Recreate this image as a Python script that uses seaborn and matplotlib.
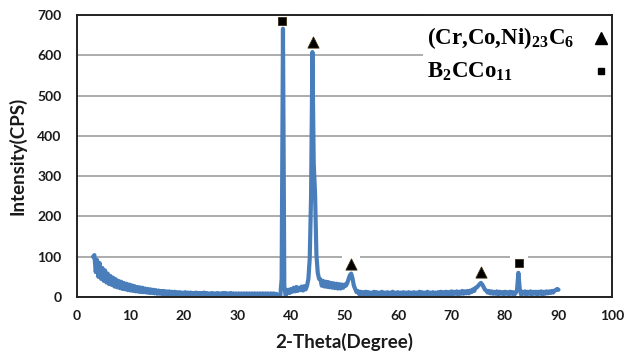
import numpy as np
import pandas as pd
import matplotlib
matplotlib.use("Agg")
import matplotlib.pyplot as plt
import seaborn as sns
from matplotlib.patches import Rectangle

# ---------------- data ----------------
theta_start, theta_step = 3.0, 0.25
intensity = [
    # 3.00 - 7.75
    100, 104, 62, 92, 50, 84, 45, 72, 40, 66, 36, 58, 32, 52, 30, 48, 26, 44, 24, 40,
    # 8.00 - 12.75
    22, 38, 20, 35, 19, 33, 17, 31, 16, 29, 15, 27, 14, 25, 13, 24, 12, 23, 12, 21,
    # 13.00 - 17.75
    11, 20, 10, 19, 10, 18, 9, 17, 8, 16, 8, 15, 7, 15, 7, 14, 6, 14, 6, 13,
    # 18.00 - 22.75
    6, 13, 5, 12, 6, 12, 5, 11, 5, 12, 4, 11, 5, 11, 4, 10, 5, 11, 4, 10,
    # 23.00 - 27.75
    4, 10, 5, 11, 4, 10, 3, 9, 4, 10, 3, 9, 4, 10, 3, 9, 4, 10, 3, 10,
    # 28.00 - 32.75
    3, 9, 4, 10, 3, 9, 4, 9, 3, 9, 3, 9, 4, 9, 3, 9, 3, 9, 3, 9,
    # 33.00 - 37.75
    3, 9, 3, 9, 3, 9, 4, 9, 3, 9, 3, 9, 4, 9, 4, 9, 3, 8, 4, 2,
    # 38.00 - 42.75
    2, 45, 666, 28, 3, 12, 18, 10, 20, 13, 23, 14, 25, 15, 23, 17, 26, 16, 27, 19,
    # 43.00 - 47.75
    28, 45, 95, 250, 608, 330, 255, 105, 60, 45, 44, 28, 40, 26, 38, 25, 37, 24, 35, 23,
    # 48.00 - 52.75
    34, 22, 33, 21, 32, 21, 31, 23, 31, 28, 34, 44, 54, 58, 46, 28, 20, 12, 15, 7,
    # 53.00 - 57.75
    13, 6, 12, 5, 13, 6, 12, 5, 11, 6, 13, 5, 12, 6, 11, 5, 13, 6, 11, 5,
    # 58.00 - 62.75
    12, 5, 11, 6, 13, 5, 11, 6, 12, 5, 11, 5, 12, 6, 11, 5, 12, 5, 11, 6,
    # 63.00 - 67.75
    12, 5, 11, 6, 13, 5, 12, 6, 11, 5, 13, 6, 11, 5, 12, 6, 11, 5, 12, 6,
    # 68.00 - 72.75
    13, 6, 12, 7, 13, 6, 12, 7, 14, 7, 13, 8, 14, 7, 13, 8, 15, 8, 14, 9,
    # 73.00 - 77.75
    15, 9, 16, 12, 19, 15, 23, 24, 28, 32, 35, 31, 25, 18, 16, 11, 15, 9, 14, 8,
    # 78.00 - 82.75
    13, 8, 14, 7, 13, 8, 12, 7, 13, 8, 12, 7, 13, 8, 12, 6, 10, 18, 60, 20,
    # 83.00 - 87.75
    6, 13, 8, 14, 7, 13, 8, 14, 7, 13, 8, 13, 7, 13, 8, 14, 7, 13, 8, 14,
    # 88.00 - 90.00
    9, 14, 10, 15, 11, 16, 17, 20, 18,
]
theta = theta_start + theta_step * np.arange(len(intensity))

tri_x = [44.05, 51.3, 75.6]
tri_y = [633, 82, 61]
sq_x = [38.4, 82.6]
sq_y = [685, 84]

legend_labels = [r"(Cr,Co,Ni)$_{\mathbf{23}}$C$_{\mathbf{6}}$", r"B$_{\mathbf{2}}$CCo$_{\mathbf{11}}$"]
x_ticks = list(range(0, 101, 10))
y_ticks = list(range(0, 701, 100))

df = pd.DataFrame({"theta": theta, "intensity": intensity})
tri_df = pd.DataFrame({"x": tri_x, "y": tri_y})
sq_df = pd.DataFrame({"x": sq_x, "y": sq_y})

# ---------------- style ----------------
sns.set_theme(style="white")
plt.rcParams["font.family"] = ["Lato", "DejaVu Sans"]
plt.rcParams["mathtext.fontset"] = "custom"
plt.rcParams["mathtext.rm"] = "Liberation Serif:bold"
plt.rcParams["mathtext.bf"] = "Liberation Serif:bold"

fig = plt.figure(figsize=(6.28, 3.58), dpi=100)
ax = fig.add_axes([77 / 628, 1 - 297 / 358, 535 / 628, 282 / 358])

blue = "#4a7ebb"

# white boxes behind peak markers (cut the gridlines like the original)
all_mx = tri_x + sq_x
all_my = tri_y + sq_y
ax.scatter(all_mx, all_my, marker="s", s=150, color="white", zorder=1.5, linewidths=0)

sns.lineplot(data=df, x="theta", y="intensity", ax=ax, color=blue,
             linewidth=3.0, estimator=None, sort=False, zorder=2)

sns.scatterplot(data=tri_df, x="x", y="y", ax=ax, marker="^", s=65,
                color="black", edgecolor="#3a2a10", linewidth=0.6, zorder=3)
sns.scatterplot(data=sq_df, x="x", y="y", ax=ax, marker="s", s=28,
                color="black", edgecolor="#3a2a10", linewidth=0.6, zorder=3)

ax.set_xlim(0, 100)
ax.set_ylim(0, 700)
ax.set_xticks(x_ticks)
ax.set_yticks(y_ticks)
ax.set_xticklabels([str(v) for v in x_ticks], fontsize=10, fontweight="bold", color="#1a1a1a")
ax.set_yticklabels([str(v) for v in y_ticks], fontsize=10, fontweight="bold", color="#1a1a1a")
ax.tick_params(axis="both", length=0, pad=9)
ax.tick_params(axis="y", pad=11)

ax.grid(axis="y", color="#a6a6a6", linewidth=1.3, zorder=0)
ax.grid(axis="x", visible=False)
ax.set_axisbelow(True)
for sp in ax.spines.values():
    sp.set_color("#222222")
    sp.set_linewidth(1.4)
    sp.set_zorder(5)

ax.set_xlabel("2-Theta(Degree)", fontsize=13.5, fontweight="bold", color="#1a1a1a", labelpad=8)
ax.set_ylabel("Intensity(CPS)", fontsize=13.5, fontweight="bold", color="#1a1a1a", labelpad=8)

# ---------------- legend (manual, like the original text box) ----------------
ax.add_patch(Rectangle((0.647, 0.735), 0.353, 0.265, transform=ax.transAxes,
                       facecolor="white", edgecolor="none", zorder=4))
legend_y = [0.918, 0.800]
legend_markers = ["^", "s"]
legend_msize = [8.5, 5]
for lab, ly, mk, ms in zip(legend_labels, legend_y, legend_markers, legend_msize):
    ax.text(0.655, ly, lab, transform=ax.transAxes, ha="left", va="center",
            fontsize=16.5, fontweight="bold", family="Liberation Serif",
            color="black", zorder=6)
    ax.plot([0.979], [ly], transform=ax.transAxes, marker=mk, markersize=ms,
            color="black", linestyle="none", zorder=6, clip_on=False)

fig.savefig("out.png", dpi=100)
